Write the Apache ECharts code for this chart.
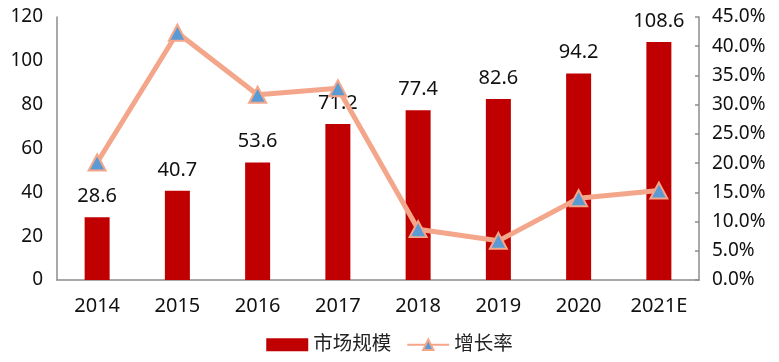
<!DOCTYPE html>
<html><head><meta charset="utf-8">
<script src="https://cdn.jsdelivr.net/npm/echarts@6/dist/echarts.min.js"></script>
<style>html,body{margin:0;padding:0;background:#fff}#c{width:779px;height:362px}</style>
</head><body><div id="c"></div>
<script>
var categories = ['2014','2015','2016','2017','2018','2019','2020','2021E'];
var marketSize = [28.6, 40.7, 53.6, 71.2, 77.4, 82.6, 94.2, 108.6];
var growthRate = [20.1, 42.3, 31.7, 32.8, 8.7, 6.7, 14.0, 15.3];
var leftTicks = [0, 20, 40, 60, 80, 100, 120];
var rightTicks = [0,5,10,15,20,25,30,35,40,45];

var FONT = '"Noto Sans", "Noto Sans CJK SC", sans-serif';
var chart = echarts.init(document.getElementById('c'));
chart.setOption({
  animation: false,
  textStyle: {fontFamily: FONT},
  grid: {left: 57, right: 80, top: 17, bottom: 82},
  legend: {
    top: 330, left: 'center', itemGap: 15, itemWidth: 42, itemHeight: 13,
    textStyle: {fontSize: 19.5, color: '#222', fontFamily: FONT},
    data: [{name: '市场规模', icon: 'rect'}, {name: '增长率'}]
  },
  xAxis: {
    type: 'category', data: categories,
    axisLine: {lineStyle: {color: '#8c8c8c', width: 1.5}},
    axisTick: {show: false},
    axisLabel: {fontSize: 20, color: '#111', margin: 16}
  },
  yAxis: [{
    type: 'value', min: leftTicks[0], max: leftTicks[leftTicks.length-1], interval: 20,
    axisLine: {show: true, lineStyle: {color: '#8c8c8c', width: 1.5}},
    axisTick: {show: false}, splitLine: {show: false},
    axisLabel: {fontSize: 19, color: '#111', margin: 14}
  }, {
    type: 'value', min: rightTicks[0], max: rightTicks[rightTicks.length-1], interval: 5,
    axisLine: {show: true, lineStyle: {color: '#8c8c8c', width: 1.5}},
    axisTick: {show: true, inside: true, length: 4, lineStyle: {color: '#8c8c8c', width: 1.5}},
    splitLine: {show: false},
    axisLabel: {fontSize: 19, color: '#111', margin: 13, formatter: function(v){return v.toFixed(1)+'%';}}
  }],
  series: [{
    name: '市场规模', type: 'bar', data: marketSize, barWidth: 25,
    itemStyle: {color: '#C00000'},
    label: {show: true, position: 'top', distance: 11, fontSize: 20, color: '#111'}
  }, {
    name: '增长率', type: 'line', yAxisIndex: 1, data: growthRate,
    symbol: 'triangle', symbolSize: [17, 16],
    lineStyle: {color: '#F4A68A', width: 5},
    itemStyle: {color: '#5B9BD5', borderColor: '#F4A68A', borderWidth: 2}
  }]
});
</script></body></html>
